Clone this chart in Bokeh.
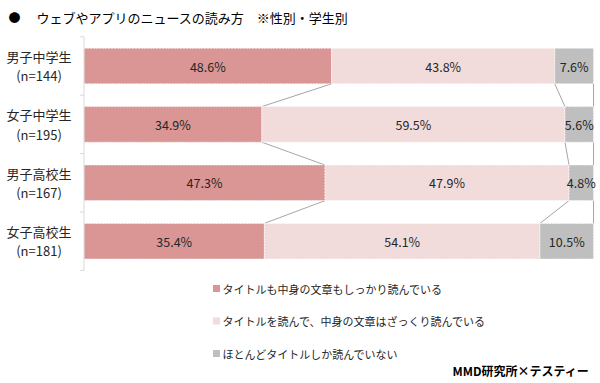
from bokeh.plotting import figure
from bokeh.models import ColumnDataSource, Range1d
from bokeh.core.properties import value
from bokeh.embed import file_html
from bokeh.resources import INLINE

# ---------------- data ----------------
chart_title = "ウェブやアプリのニュースの読み方　※性別・学生別"
categories = ["男子中学生", "女子中学生", "男子高校生", "女子高校生"]
sample_sizes = ["(n=144)", "(n=195)", "(n=167)", "(n=181)"]
series_names = [
    "タイトルも中身の文章もしっかり読んでいる",
    "タイトルを読んで、中身の文章はざっくり読んでいる",
    "ほとんどタイトルしか読んでいない",
]
thorough = [48.6, 34.9, 47.3, 35.4]
skim = [43.8, 59.5, 47.9, 54.1]
title_only = [7.6, 5.6, 4.8, 10.5]
source_note = "MMD研究所×テスティー"

# ---------------- styles / layout ----------------
colors = ["#D99694", "#F2DCDB", "#BFBFBF"]
FONT = "Noto Sans CJK JP"
TEXT_COLOR = "#262626"
W, H = 600, 383
X0_PX = 83.5                      # pixel of 0 %
X_SCALE = (593 - X0_PX) / 100.0   # pixels per percent
ROW0_PX = 65.5                    # pixel of first row centre
ROW_PX = 58.4                     # pixels per row
BAR_H = 0.61


def fx(px):  # pixel -> data x
    return (px - X0_PX) / X_SCALE


def fy(py):  # pixel -> data y (row units)
    return (py - ROW0_PX) / ROW_PX


p = figure(width=W, height=H, title=None,
           x_range=Range1d(fx(0), fx(W)),
           y_range=Range1d(fy(H), fy(0)),
           output_backend="svg", toolbar_location=None, min_border=0,
           x_axis_type=None, y_axis_type=None, outline_line_color=None,
           background_fill_color="white", border_fill_color="white")

rows = list(range(len(categories)))
series = [thorough, skim, title_only]
lefts, rights = [], []
acc = [0.0] * len(rows)
for s in series:
    l = list(acc)
    acc = [a + v for a, v in zip(acc, s)]
    lefts.append(l)
    rights.append(list(acc))

# series lines (connect ends of each series between rows)
for k in range(len(series)):
    ends = rights[k]
    p.segment(x0=ends[:-1], y0=[r + BAR_H / 2 for r in rows[:-1]],
              x1=ends[1:], y1=[r + 1 - BAR_H / 2 for r in rows[:-1]],
              line_color="#A6A6A6", line_width=1)

# bars
for k in range(len(series)):
    src = ColumnDataSource(dict(y=rows, left=lefts[k], right=rights[k]))
    p.hbar(y="y", left="left", right="right", height=BAR_H, source=src,
           fill_color=colors[k], line_color="white", line_width=0.6,
           line_dash="2 1")

# value labels
for k in range(len(series)):
    src = ColumnDataSource(dict(
        x=[(a + b) / 2 for a, b in zip(lefts[k], rights[k])], y=rows,
        t=[f"{v:.1f}%" for v in series[k]]))
    p.text(x="x", y="y", text="t", source=src, text_align="center",
           text_baseline="middle", text_font=value(FONT),
           text_font_size="12.5px", text_color=TEXT_COLOR)

# category axis line + ticks
bounds = [r - 0.5 for r in rows] + [rows[-1] + 0.5]
p.segment(x0=[0], y0=[bounds[0]], x1=[0], y1=[bounds[-1]],
          line_color="#D9D9D9", line_width=1)
p.segment(x0=[-4 / X_SCALE] * len(bounds), y0=bounds, x1=[0] * len(bounds),
          y1=bounds, line_color="#D9D9D9", line_width=1)

# category labels (two lines)
lab_x = fx(38.5)
p.text(x=[lab_x] * len(rows), y=[r - 0.165 for r in rows], text=categories,
       text_align="center", text_baseline="middle", text_font=value(FONT),
       text_font_size="13px", text_color=TEXT_COLOR)
p.text(x=[lab_x] * len(rows), y=[r + 0.165 for r in rows], text=sample_sizes,
       text_align="center", text_baseline="middle", text_font=value(FONT),
       text_font_size="13px", text_color=TEXT_COLOR)

# title
p.text(x=[fx(14)], y=[fy(17)], text=["●"], text_align="center",
       text_baseline="middle", text_font=value(FONT), text_font_size="12px",
       text_color="#000000")
p.text(x=[fx(36)], y=[fy(17)], text=[chart_title], text_align="left",
       text_baseline="middle", text_font=value(FONT), text_font_size="13px",
       text_color="#000000")

# legend
leg_y = [fy(288), fy(320.5), fy(353)]
p.rect(x=[fx(216)] * 3, y=leg_y, width=7, height=7, width_units="screen",
       height_units="screen", fill_color=colors, line_color=None)
p.text(x=[fx(222)] * 3, y=leg_y, text=series_names, text_align="left",
       text_baseline="middle", text_font=value(FONT), text_font_size="11px",
       text_color=TEXT_COLOR)

# source
p.text(x=[fx(589)], y=[fy(370)], text=[source_note], text_align="right",
       text_baseline="middle", text_font=value(FONT), text_font_size="12px",
       text_font_style="bold", text_color="#000000")

open("out.html", "w").write(file_html(p, INLINE))
